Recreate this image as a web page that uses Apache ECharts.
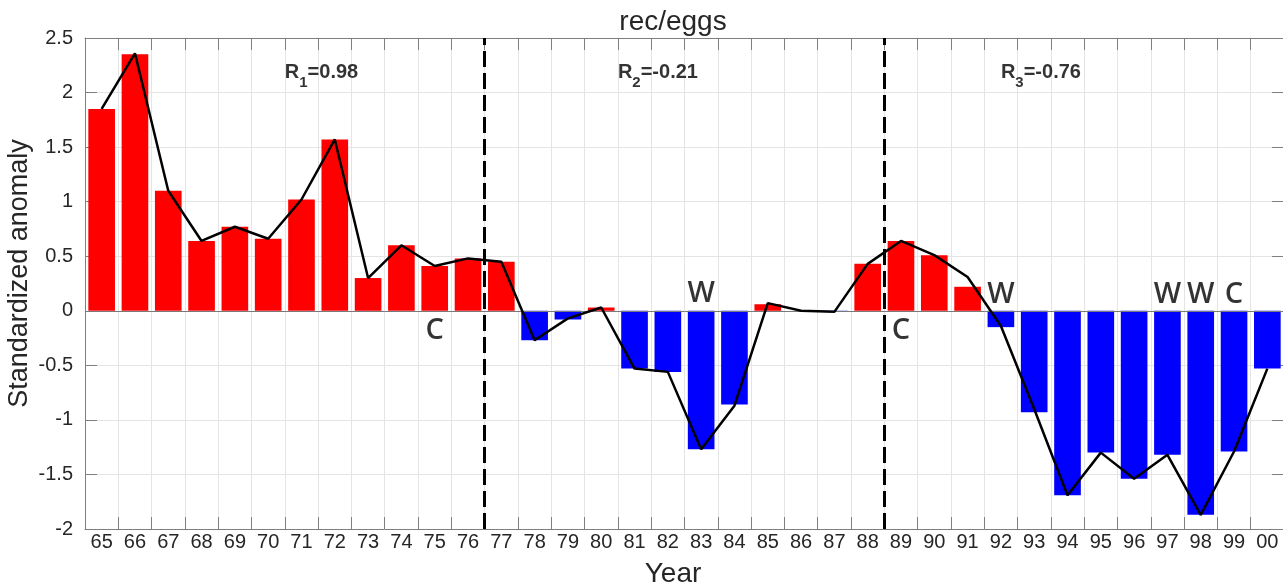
<!DOCTYPE html>
<html>
<head>
<meta charset="utf-8">
<title>rec/eggs</title>
<script src="https://cdn.jsdelivr.net/npm/echarts@6/dist/echarts.min.js"></script>
<style>
  html, body { margin: 0; padding: 0; background: #ffffff; }
  #chart { width: 1283px; height: 585px; }
</style>
</head>
<body>
<div id="chart"></div>
<script>
// Years shown on the category axis (1965 - 2000)
const years = ['65','66','67','68','69','70','71','72','73','74','75','76',
               '77','78','79','80','81','82','83','84','85','86','87','88',
               '89','90','91','92','93','94','95','96','97','98','99','00'];

// Standardized anomaly of rec/eggs (bars)
const anomaly = [1.85, 2.35, 1.10, 0.64, 0.77, 0.66, 1.02, 1.57, 0.30, 0.60, 0.41, 0.48,
                 0.45, -0.27, -0.08, 0.03, -0.53, -0.56, -1.27, -0.86, 0.06, 0.00, -0.01, 0.43,
                 0.64, 0.51, 0.22, -0.15, -0.93, -1.69, -1.30, -1.54, -1.32, -1.87, -1.29, -0.53];

// Comparison series (black line)
const lineValues = [1.85, 2.36, 1.10, 0.64, 0.77, 0.66, 1.02, 1.57, 0.30, 0.60, 0.41, 0.48,
                    0.45, -0.27, -0.07, 0.03, -0.53, -0.56, -1.27, -0.87, 0.07, 0.00, -0.01, 0.43,
                    0.64, 0.51, 0.31, -0.14, -0.90, -1.69, -1.30, -1.54, -1.32, -1.87, -1.29, -0.53];

// Period boundaries (in year-index units, between categories)
const dividers = [11.5, 23.5];

// Correlation per period
const corrSub = ['1', '2', '3'];
const corrText = ['0.98', '-0.21', '-0.76'];
const corrX = [5.5, 15.5, 27.0];
const corrY = 2.18;

// Warm (W) / cold (C) year markers
const markText = ['C', 'W', 'C', 'W', 'W', 'W', 'C'];
const markIndex = [10, 18, 24, 27, 32, 33, 34];
const markY = [-0.18, 0.16, -0.18, 0.15, 0.15, 0.15, 0.15];

const FONT = '"Liberation Sans", Arial, Helvetica, sans-serif';
const TEXT = '#262626';
const AXIS = '#7f7f7f';
const GRIDC = '#e4e4e4';

const chart = echarts.init(document.getElementById('chart'), null, { renderer: 'canvas' });

const tickInside = { show: true, inside: true, length: 12, lineStyle: { color: AXIS, width: 1 } };

const option = {
  animation: false,
  backgroundColor: '#ffffff',
  title: [
    { text: 'rec/eggs', left: 668, textAlign: 'center', top: 3,
      textStyle: { fontFamily: FONT, fontSize: 28, fontWeight: 'normal', color: TEXT } },
    { text: 'Year', left: 668, textAlign: 'center', top: 555,
      textStyle: { fontFamily: FONT, fontSize: 28, fontWeight: 'normal', color: TEXT } }
  ],
  grid: { left: 85, top: 38, width: 1199, height: 491, containLabel: false, outerBoundsMode: 'none' },
  xAxis: [
    {
      type: 'category', position: 'bottom', data: years,
      axisLine: { show: true, onZero: false, lineStyle: { color: AXIS, width: 1 } },
      axisTick: tickInside,
      axisLabel: { fontFamily: FONT, fontSize: 20, color: TEXT, margin: 3 },
      splitLine: { show: true, lineStyle: { color: GRIDC, width: 1 } }
    },
    {
      type: 'category', position: 'top', data: years,
      axisLine: { show: true, onZero: false, lineStyle: { color: AXIS, width: 1 } },
      axisTick: tickInside,
      axisLabel: { show: false },
      splitLine: { show: false }
    },
    { type: 'value', min: -0.5, max: 35.5, show: false }
  ],
  yAxis: [
    {
      type: 'value', position: 'left', min: -2, max: 2.5, interval: 0.5,
      name: 'Standardized anomaly', nameLocation: 'middle', nameGap: 52, nameMoveOverlap: false,
      nameTextStyle: { fontFamily: FONT, fontSize: 27, color: TEXT, padding: [0, 0, 0, 20] },
      axisLine: { show: true, onZero: false, lineStyle: { color: AXIS, width: 1 } },
      axisTick: tickInside,
      axisLabel: { fontFamily: FONT, fontSize: 20, color: TEXT, margin: 12 },
      splitLine: { show: true, lineStyle: { color: GRIDC, width: 1 } }
    },
    {
      type: 'value', position: 'right', min: -2, max: 2.5, interval: 0.5,
      axisLine: { show: true, onZero: false, lineStyle: { color: AXIS, width: 1 } },
      axisTick: tickInside,
      axisLabel: { show: false },
      splitLine: { show: false }
    }
  ],
  series: [
    {
      name: 'rec/eggs', type: 'bar', xAxisIndex: 0, yAxisIndex: 0,
      data: anomaly, barCategoryGap: '20%',
      itemStyle: { color: p => (p.value >= 0 ? '#ff0000' : '#0000ff') },
      markLine: {
        silent: true, symbol: 'none', label: { show: false },
        lineStyle: { color: '#7a7a7a', width: 1, type: 'solid' },
        data: [{ yAxis: 0 }]
      },
      z: 2
    },
    {
      name: 'dividers', type: 'scatter', xAxisIndex: 2, yAxisIndex: 0,
      data: [], symbolSize: 0,
      markLine: {
        silent: true, symbol: 'none', label: { show: false },
        lineStyle: { color: '#000000', width: 3, type: [16, 6] },
        data: dividers.map(x => ({ xAxis: x }))
      },
      z: 4
    },
    {
      name: 'line', type: 'line', xAxisIndex: 0, yAxisIndex: 0,
      data: lineValues, symbol: 'none',
      lineStyle: { color: '#000000', width: 2.5 },
      z: 5
    },
    {
      name: 'correlation', type: 'scatter', xAxisIndex: 2, yAxisIndex: 0,
      symbolSize: 0,
      data: corrX.map((x, i) => ({ value: [x, corrY], sub: corrSub[i], txt: corrText[i] })),
      label: {
        show: true, position: 'right', distance: 0,
        formatter: p => '{m|R}{s|' + p.data.sub + '}{m|=' + p.data.txt + '}',
        rich: {
          m: { fontFamily: FONT, fontSize: 20, fontWeight: 'bold', color: '#000' },
          s: { fontFamily: FONT, fontSize: 15, fontWeight: 'bold', color: '#000', padding: [20, 0, 0, 0] }
        }
      },
      z: 6
    },
    {
      name: 'markers', type: 'scatter', xAxisIndex: 2, yAxisIndex: 0,
      symbolSize: 0,
      data: markIndex.map((x, i) => ({ value: [x, markY[i]], t: markText[i] })),
      label: {
        show: true, position: 'inside',
        formatter: p => p.data.t,
        fontFamily: '"Open Sans", "Noto Sans", sans-serif', fontSize: 29, fontWeight: 600, color: '#000'
      },
      z: 6
    }
  ]
};

chart.setOption(option);
</script>
</body>
</html>
